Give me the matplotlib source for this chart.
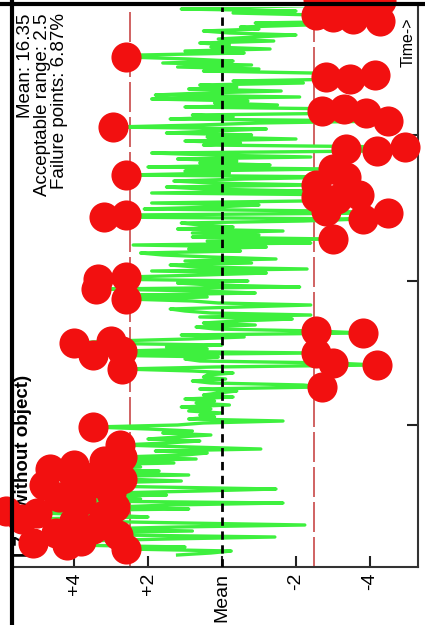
import numpy as np
import matplotlib
matplotlib.use('Agg')
import matplotlib.pyplot as plt
from matplotlib.lines import Line2D

plt.rcParams['font.family'] = ['Liberation Sans', 'DejaVu Sans']

# deviation from mean, one value per time step (bottom -> top)
desvio = [
	1.2, 0.3, -0.25, 2.6, 1.0, 4.2, 5.1, 3.8, 1.5, -1.43,
	2.8, 4.5, 0.8, 3.5, 1.2, -2.24, 1.0, 4.0, 5.4, 2.0,
	3.2, 5.0, 5.85, 0.9, 2.9, 1.4, -1.65, 3.8, 2.2, 4.4,
	1.5, 3.0, 0.6, -1.46, 1.8, 4.8, 3.5, 1.1, 2.7, 4.0,
	0.9, 3.3, 1.7, 4.65, 2.2, 4.0, 1.3, 3.2, 0.7, 2.7,
	1.0, 0.4, 1.8, -1.05, 0.9, 2.75, 1.5, 0.6, 2.0, 1.2,
	0.3, 1.6, 0.8, 2.0, 3.5, 1.2, 0.5, -1.65, 0.9, 0.2,
	0.6, 0.0, 0.9, 0.3, 1.1, -0.2, 0.7, 0.2, 1.0, -0.3,
	0.5, 0.1, -0.4, 0.6, -2.7, -2.2, 0.3, 0.8, -0.1, 0.5,
	0.4, -0.3, 0.8, 2.7, 0.2, -4.2, -3.0, 0.6, 1.0, 0.1,
	3.5, -2.55, 2.7, 0.4, 1.5, 0.0, 4.0, 3.0, 0.9, -0.6,
	1.1, -3.8, -2.55, 0.2, 0.7, -0.9, 0.5, -0.4, -1.9, 0.6,
	-2.4, 0.3, 1.0, 1.4, -0.5, -2.4, 0.1, 0.8, 2.6, 0.4,
	2.2, -0.9, 0.5, 3.4, -2.1, 0.3, 1.2, -0.7, 3.35, 2.6,
	0.5, -1.2, 1.9, -2.3, 0.7, 1.4, -0.8, 1.0, -1.46, 0.3,
	1.6, 2.2, -0.5, 0.9, -1.2, 2.4, -2.4, 0.4, -3.0, 0.8,
	-1.0, 0.8, -1.65, 1.2, -0.3, 0.6, 1.1, -2.2, -3.8, 3.2,
	2.6, -4.5, -2.8, 2.1, 0.2, -1.0, 1.9, -2.2, -3.1, -2.55,
	-3.7, 1.9, -2.2, 0.5, 1.5, -2.55, 0.3, 1.3, -0.6, -3.35,
	2.6, -0.2, 1.0, -3.0, 2.0, -1.3, 0.6, -0.4, 1.2, -2.4,
	0.3, 1.9, -4.2, -3.35, -4.95, 0.5, -0.5, 1.0, -2.0, 0.4,
	-0.8, 1.5, 0.2, -1.2, 2.95, 0.6, -1.0, -4.5, 1.4, -0.3,
	0.8, -3.9, -2.7, -3.3, 1.0, -1.5, 0.2, -0.7, 1.9, -2.1,
	1.8, 0.5, -1.6, 0.9, -0.4, 0.6, -2.2, -0.3, -3.45, -2.8,
	-4.15, -2.4, 0.5, -1.0, 1.2, -0.8, 1.6, -0.3, 0.9, 2.6,
	2.2, -0.6, 1.0, -1.3, 0.3, -0.2, 0.6, -1.4, 0.1, -0.9,
	-2.0, -0.2, 0.5, -1.0, -0.5, -2.3, -0.9, -4.27, -3.55, -3.0,
	-2.55, -0.3, -2.0, 1.1, -0.6, -3.2, -3.9, -4.3, -2.6, 0.4,
]
faixa = 2.5
ticks_valor = [4, 2, 0, -2, -4]
rotulos_valor = ['+4', '+2', 'Mean', '-2', '-4']
ticks_tempo = [65, 137, 210]
titulo = 'L7.1 (without object)'
info = 'Mean: 16.35\nAcceptable range: 2.5\nFailure points: 6.87%'

desvio = np.array(desvio)
tempo = np.arange(len(desvio))
falha = np.abs(desvio) > faixa

fig = plt.figure(figsize=(4.25, 6.25), dpi=100)
ax = fig.add_axes([13/425, 1 - 567/625, 405/425, 560/625])

ax.axvline(faixa, color='#c84848', lw=1.2, dashes=(18, 3), zorder=1)
ax.axvline(-faixa, color='#c84848', lw=1.2, dashes=(18, 3), zorder=1)
ax.plot(desvio, tempo, color='#3ef03e', lw=2.4, zorder=2)
ax.axvline(0, color='black', lw=2, dashes=(3, 2), zorder=3)
ax.scatter(desvio[falha], tempo[falha], s=470, color='#f21010', zorder=5, clip_on=False, linewidths=0)

ax.set_xlim(5.65, -5.3)
ax.set_ylim(-6, 274)

ax.set_xticks(ticks_valor)
ax.set_xticklabels(rotulos_valor, rotation=90, fontsize=14)
ax.yaxis.tick_right()
ax.set_yticks(ticks_tempo)
ax.set_yticklabels([])
ax.tick_params(axis='x', direction='in', length=8, width=1.5, pad=4, color='#222222')
ax.tick_params(axis='y', direction='in', length=8, width=1.5, color='#222222')

for lado in ['left', 'top']:
	ax.spines[lado].set_visible(False)
for lado in ['bottom', 'right']:
	ax.spines[lado].set_color('#333333')
	ax.spines[lado].set_linewidth(1.5)

ax.text(0.005, 0.018, titulo, transform=ax.transAxes, rotation=90, fontsize=13.5,
	fontweight='bold', ha='left', va='bottom', zorder=4)
ax.text(0.01, 0.989, info, transform=ax.transAxes, rotation=90, fontsize=13.5,
	ha='left', va='top', multialignment='right', linespacing=1.0, zorder=4)
ax.text(0.995, 0.982, 'Time->', transform=ax.transAxes, rotation=90, fontsize=11.5,
	ha='right', va='top', zorder=4)

fig.add_artist(Line2D([12/425, 12/425], [0, 1], transform=fig.transFigure, color='black', lw=3))
fig.add_artist(Line2D([0, 1], [1 - 4/625, 1 - 4/625], transform=fig.transFigure, color='black', lw=3))

fig.savefig('out.png', dpi=100)
